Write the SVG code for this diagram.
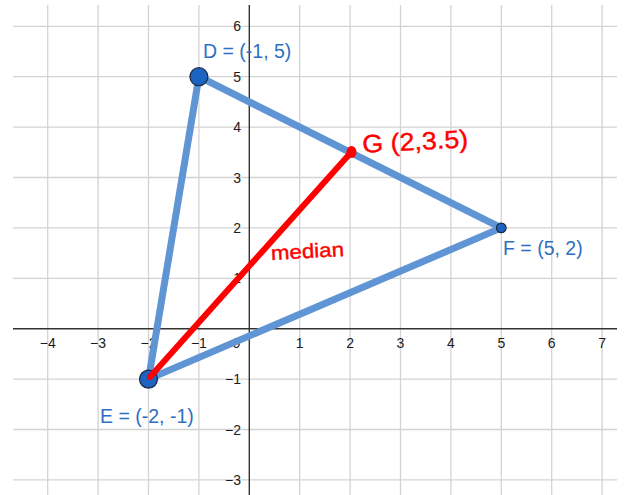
<svg xmlns="http://www.w3.org/2000/svg" width="626" height="495" viewBox="0 0 626 495">
<style>
.grid line{stroke:#d3d3d3;stroke-width:1.3}
.axis{stroke:#333;stroke-width:1.4}
.tick{font-family:"Liberation Sans",Arial,sans-serif;font-size:14px;fill:#1a1a1a}
.tx{text-anchor:middle}
.ty{text-anchor:end}
.edge{stroke:#5f95d4;stroke-width:7;stroke-linecap:round;fill:none}
.med{stroke:#ff0000;stroke-width:6;stroke-linecap:round;fill:none}
.pt{fill:#1c63c2;stroke:#1b2a40;stroke-width:1.2}
.lbl{font-family:"Liberation Sans",Arial,sans-serif;font-size:19.5px;fill:#2e6fc2}
.hand{font-family:"Liberation Sans",Arial,sans-serif;fill:#ff0000;stroke:#ff0000;stroke-width:0.4}
</style>
<rect width="626" height="495" fill="#fff"/>
<g class="grid">
<line x1="47.7" y1="5" x2="47.7" y2="495"/>
<line x1="98.1" y1="5" x2="98.1" y2="495"/>
<line x1="148.5" y1="5" x2="148.5" y2="495"/>
<line x1="198.9" y1="5" x2="198.9" y2="495"/>
<line x1="299.7" y1="5" x2="299.7" y2="495"/>
<line x1="350.1" y1="5" x2="350.1" y2="495"/>
<line x1="400.5" y1="5" x2="400.5" y2="495"/>
<line x1="450.9" y1="5" x2="450.9" y2="495"/>
<line x1="501.3" y1="5" x2="501.3" y2="495"/>
<line x1="551.7" y1="5" x2="551.7" y2="495"/>
<line x1="602.1" y1="5" x2="602.1" y2="495"/>
<line x1="13" y1="26.3" x2="617" y2="26.3"/>
<line x1="13" y1="76.7" x2="617" y2="76.7"/>
<line x1="13" y1="127.1" x2="617" y2="127.1"/>
<line x1="13" y1="177.5" x2="617" y2="177.5"/>
<line x1="13" y1="227.9" x2="617" y2="227.9"/>
<line x1="13" y1="278.3" x2="617" y2="278.3"/>
<line x1="13" y1="379.1" x2="617" y2="379.1"/>
<line x1="13" y1="429.5" x2="617" y2="429.5"/>
<line x1="13" y1="479.9" x2="617" y2="479.9"/>
</g>
<line class="axis" x1="13" y1="328.7" x2="617" y2="328.7"/>
<line class="axis" x1="249.3" y1="5" x2="249.3" y2="495"/>
<g class="tick tx">
<text x="47.7" y="348">−4</text>
<text x="98.1" y="348">−3</text>
<text x="148.5" y="348">−2</text>
<text x="198.9" y="348">−1</text>
<text x="236.5" y="348">0</text>
<text x="299.7" y="348">1</text>
<text x="350.1" y="348">2</text>
<text x="400.5" y="348">3</text>
<text x="450.9" y="348">4</text>
<text x="501.3" y="348">5</text>
<text x="551.7" y="348">6</text>
<text x="602.1" y="348">7</text>
</g>
<g class="tick ty">
<text x="241" y="31.3">6</text>
<text x="241" y="81.7">5</text>
<text x="241" y="132.1">4</text>
<text x="241" y="182.5">3</text>
<text x="241" y="232.9">2</text>
<text x="241" y="283.3">1</text>
<text x="241" y="384.1">−1</text>
<text x="241" y="434.5">−2</text>
<text x="241" y="484.9">−3</text>
</g>
<g id="connectors">
<line class="edge" x1="198.9" y1="76.7" x2="148.5" y2="379.1"/>
<line class="edge" x1="198.9" y1="76.7" x2="501.3" y2="227.9"/>
<line class="edge" x1="148.5" y1="379.1" x2="501.3" y2="227.9"/>
</g>
<g id="E">
<circle class="pt" cx="148.5" cy="379.1" r="9"/>
<text class="lbl" x="100" y="423">E = (-2, -1)</text>
</g>
<g id="median">
<line class="med" x1="150" y1="377" x2="350.5" y2="153"/>
<text class="hand" x="271" y="258" font-size="20" textLength="73" lengthAdjust="spacingAndGlyphs" transform="rotate(-3 307 252)">median</text>
</g>
<g id="D">
<circle class="pt" cx="198.9" cy="76.7" r="9"/>
<text class="lbl" x="203" y="58">D = (-1, 5)</text>
</g>
<g id="F">
<circle class="pt" cx="501.3" cy="227.9" r="4.8"/>
<text class="lbl" x="503" y="255">F = (5, 2)</text>
</g>
<g id="G">
<ellipse cx="351.5" cy="152" rx="5" ry="6" fill="#ff0000"/>
<text class="hand" x="362" y="150" font-size="25" textLength="106" lengthAdjust="spacingAndGlyphs" transform="rotate(-3 415 138)">G (2,3.5)</text>
</g>
</svg>
